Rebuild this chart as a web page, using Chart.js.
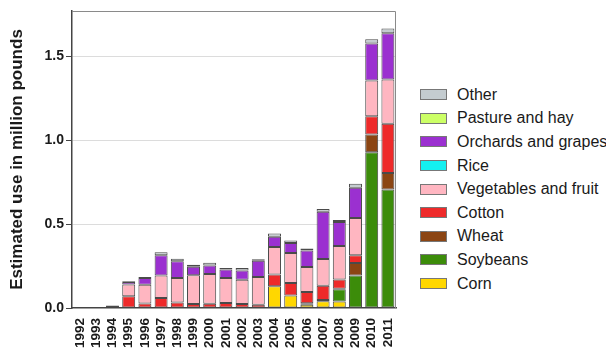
<!DOCTYPE html>
<html>
<head>
<meta charset="utf-8">
<script src="https://cdn.jsdelivr.net/npm/chart.js@4"></script>
<style>
  body { margin: 0; background: #fff; font-family: "Liberation Sans", Arial, sans-serif; }
  #wrap { position: relative; width: 606px; height: 349px; }
  #box { position: absolute; left: 0; top: 0; width: 410px; height: 349px; }
  #legend { position: absolute; left: 420px; top: 83px; }
  .item { display: flex; align-items: center; height: 23.6px; font-size: 16px; color: #1a1a1a; white-space: nowrap; }
  .sw { width: 25px; height: 9px; border: 1px solid #777; margin-right: 10px; }
</style>
</head>
<body>
<div id="wrap">
  <div id="box"><canvas id="usageChart"></canvas></div>
  <div id="legend"></div>
</div>
<script>
const years = ['1992', '1993', '1994', '1995', '1996', '1997', '1998', '1999', '2000', '2001',
               '2002', '2003', '2004', '2005', '2006', '2007', '2008', '2009', '2010', '2011'];

const corn      = [0, 0, 0, 0, 0, 0, 0, 0, 0, 0, 0, 0, 0.13, 0.075, 0.02, 0.04, 0.039, 0, 0, 0];
const soybeans  = [0, 0, 0, 0, 0, 0, 0, 0, 0, 0, 0, 0, 0, 0, 0, 0, 0.072, 0.193, 0.928, 0.706];
const wheat     = [0, 0, 0, 0, 0, 0, 0, 0, 0, 0, 0, 0, 0, 0, 0.008, 0.008, 0.003, 0.075, 0.106, 0.099];
const cotton    = [0, 0, 0, 0.07, 0.027, 0.06, 0.033, 0.024, 0.026, 0.03, 0.024, 0.02, 0.07, 0.074, 0.067, 0.085, 0.056, 0.046, 0.109, 0.293];
const vegFruit  = [0, 0, 0.012, 0.07, 0.112, 0.133, 0.146, 0.171, 0.177, 0.149, 0.145, 0.165, 0.163, 0.179, 0.149, 0.159, 0.199, 0.223, 0.213, 0.264];
const rice      = [0, 0, 0, 0, 0, 0, 0, 0, 0, 0, 0, 0, 0, 0, 0, 0, 0, 0, 0, 0];
const orchards  = [0, 0, 0, 0.015, 0.04, 0.121, 0.099, 0.051, 0.051, 0.05, 0.055, 0.097, 0.062, 0.06, 0.098, 0.282, 0.143, 0.179, 0.221, 0.275];
const pasture   = [0, 0, 0, 0, 0, 0, 0, 0, 0, 0, 0, 0, 0, 0, 0, 0, 0, 0, 0, 0];
const other     = [0, 0, 0.003, 0.005, 0.006, 0.018, 0.016, 0.012, 0.016, 0.01, 0.015, 0.008, 0.019, 0.014, 0.012, 0.016, 0.012, 0.024, 0.024, 0.028];

const yTicks = [0, 0.5, 1.0, 1.5];

// bottom of the stack first
const series = [
    { label: 'Corn', data: corn, color: '#ffd700' },
    { label: 'Soybeans', data: soybeans, color: '#3c8c0a' },
    { label: 'Wheat', data: wheat, color: '#8b4513' },
    { label: 'Cotton', data: cotton, color: '#ee2a2a' },
    { label: 'Vegetables and fruit', data: vegFruit, color: '#ffb6c1' },
    { label: 'Rice', data: rice, color: '#14f0f0' },
    { label: 'Orchards and grapes', data: orchards, color: '#9b30d0' },
    { label: 'Pasture and hay', data: pasture, color: '#ccff66' },
    { label: 'Other', data: other, color: '#c4ccd0' }
];

const legend = document.getElementById('legend');
series.slice().reverse().forEach(s => {
    const row = document.createElement('div');
    row.className = 'item';
    row.innerHTML = '<span class="sw" style="background:' + s.color + '"></span>' + s.label;
    legend.appendChild(row);
});

const frame = {
    id: 'frame',
    afterDraw(chart) {
        const a = chart.chartArea, c = chart.ctx;
        c.save();
        c.strokeStyle = '#8a8a8a';
        c.lineWidth = 1;
        c.beginPath();
        c.moveTo(a.left, a.top + 0.5);
        c.lineTo(a.right - 0.5, a.top + 0.5);
        c.lineTo(a.right - 0.5, a.bottom);
        c.stroke();
        c.restore();
    }
};

const txt = '#1a1a1a';
const ctx = document.getElementById('usageChart').getContext('2d');
new Chart(ctx, {
    type: 'bar',
    data: {
        labels: years,
        datasets: series.map(s => ({
            label: s.label,
            data: s.data,
            backgroundColor: s.color,
            borderColor: '#4a4a4a',
            borderWidth: 1,
            borderSkipped: false,
            categoryPercentage: 1,
            barPercentage: 0.8
        }))
    },
    options: {
        responsive: true,
        maintainAspectRatio: false,
        animation: false,
        layout: { padding: { top: 11, right: 14 } },
        plugins: {
            legend: { display: false },
            tooltip: { enabled: false }
        },
        scales: {
            x: {
                stacked: true,
                grid: { display: false },
                border: { color: '#444', width: 1.5 },
                ticks: {
                    color: txt,
                    font: { family: 'Liberation Sans', size: 13.5, weight: 'bold' },
                    minRotation: 90,
                    maxRotation: 90,
                    autoSkip: false,
                    padding: 2
                },
                afterFit(scale) { scale.height = 41; }
            },
            y: {
                stacked: true,
                min: 0,
                max: 1.77,
                afterBuildTicks(scale) { scale.ticks = yTicks.map(v => ({ value: v })); },
                grid: {
                    color: c => c.tick && c.tick.value === 0 ? 'rgba(0,0,0,0)' : '#dcdcdc',
                    tickColor: '#444',
                    tickLength: 6
                },
                border: { color: '#444', width: 1.5 },
                ticks: {
                    color: txt,
                    font: { family: 'Liberation Sans', size: 14, weight: 'bold' },
                    padding: 2,
                    callback: v => v.toFixed(1)
                },
                title: {
                    display: true,
                    text: 'Estimated use in million pounds',
                    color: txt,
                    font: { family: 'Liberation Sans', size: 17, weight: 'bold' },
                    padding: { top: 7, bottom: 0 }
                },
                afterFit(scale) { scale.width = 72; }
            }
        }
    },
    plugins: [frame]
});
</script>
</body>
</html>
